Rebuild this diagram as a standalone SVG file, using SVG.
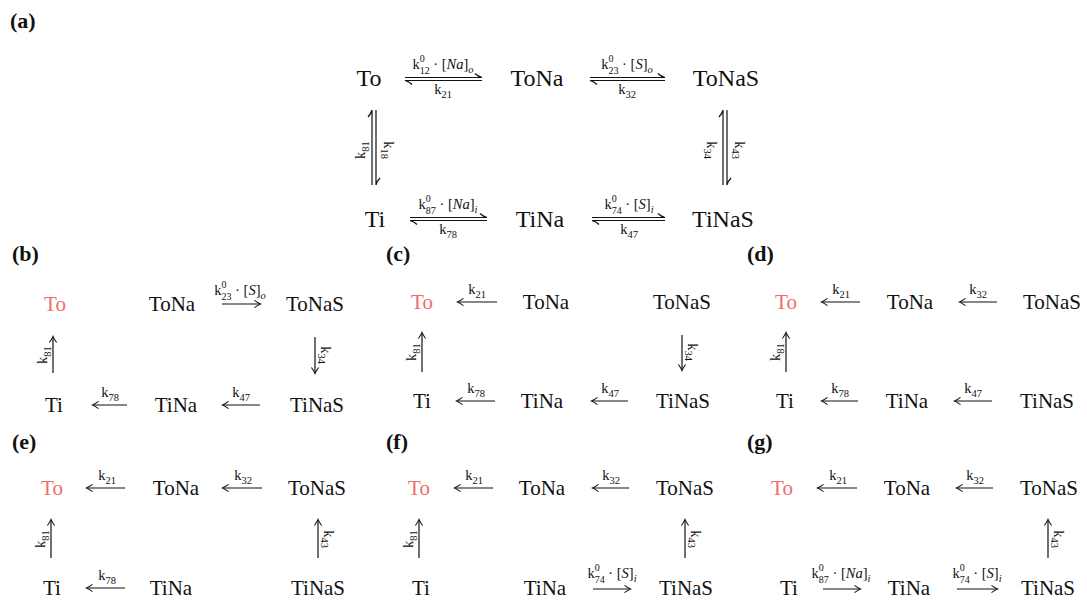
<svg xmlns="http://www.w3.org/2000/svg" width="1087" height="601" viewBox="0 0 1087 601">
<style>
.n{font-family:"Liberation Serif","Times New Roman",serif;font-size:21px;fill:#111;text-anchor:middle}
.na{font-size:24px}
.red{fill:#ee6b6e}
.l{font-family:"Liberation Serif","Times New Roman",serif;font-size:14.5px;fill:#111;text-anchor:middle}
.s{font-size:10.5px}
.t{font-size:10px}
.i{font-style:italic}
.p{font-family:"Liberation Serif","Times New Roman",serif;font-size:22px;font-weight:bold;fill:#111}
.c{stroke:#111;stroke-width:1.2;fill:none}
.a{stroke:#111;stroke-width:1.2;fill:none;marker-end:url(#ah)}
</style>
<defs>
<marker id="ah" viewBox="-7 -5 9 10" markerWidth="9" markerHeight="10" refX="0" refY="0" orient="auto" markerUnits="userSpaceOnUse">
<path d="M-5.5,-3.6 Q-1.8,-0.9 0.6,0 Q-1.8,0.9 -5.5,3.6" fill="none" stroke="#111" stroke-width="1.1"/>
</marker>
</defs>
<rect width="1087" height="601" fill="#fff"/>

<g id="panel-labels">
<text class="p" x="10" y="28">(a)</text>
<text class="p" x="12" y="261">(b)</text>
<text class="p" x="386" y="261">(c)</text>
<text class="p" x="747" y="261">(d)</text>
<text class="p" x="12" y="449">(e)</text>
<text class="p" x="386" y="449">(f)</text>
<text class="p" x="747" y="449">(g)</text>
</g>

<!-- ===== panel (a) nodes ===== -->
<g id="a-To"><text class="n na" x="369" y="86">To</text></g>
<g id="a-ToNa"><text class="n na" x="537" y="86">ToNa</text></g>
<g id="a-ToNaS"><text class="n na" x="726" y="86">ToNaS</text></g>
<g id="a-Ti"><text class="n na" x="375" y="227">Ti</text></g>
<g id="a-TiNa"><text class="n na" x="540" y="227">TiNa</text></g>
<g id="a-TiNaS"><text class="n na" x="723" y="227">TiNaS</text></g>

<!-- ===== panel (b) nodes ===== -->
<g id="b-To"><text class="n red" x="55" y="311">To</text></g>
<g id="b-ToNa"><text class="n" x="172" y="311">ToNa</text></g>
<g id="b-ToNaS"><text class="n" x="315" y="311">ToNaS</text></g>
<g id="b-Ti"><text class="n" x="54" y="412">Ti</text></g>
<g id="b-TiNa"><text class="n" x="176" y="412">TiNa</text></g>
<g id="b-TiNaS"><text class="n" x="317" y="412">TiNaS</text></g>

<!-- ===== panel (c) nodes ===== -->
<g id="c-To"><text class="n red" x="422" y="309">To</text></g>
<g id="c-ToNa"><text class="n" x="546" y="309">ToNa</text></g>
<g id="c-ToNaS"><text class="n" x="682" y="309">ToNaS</text></g>
<g id="c-Ti"><text class="n" x="422" y="408">Ti</text></g>
<g id="c-TiNa"><text class="n" x="542" y="408">TiNa</text></g>
<g id="c-TiNaS"><text class="n" x="683" y="408">TiNaS</text></g>

<!-- ===== panel (d) nodes ===== -->
<g id="d-To"><text class="n red" x="786" y="309">To</text></g>
<g id="d-ToNa"><text class="n" x="910" y="309">ToNa</text></g>
<g id="d-ToNaS"><text class="n" x="1052" y="309">ToNaS</text></g>
<g id="d-Ti"><text class="n" x="785" y="408">Ti</text></g>
<g id="d-TiNa"><text class="n" x="907" y="408">TiNa</text></g>
<g id="d-TiNaS"><text class="n" x="1047" y="408">TiNaS</text></g>

<!-- ===== panel (e) nodes ===== -->
<g id="e-To"><text class="n red" x="52" y="495">To</text></g>
<g id="e-ToNa"><text class="n" x="176" y="495">ToNa</text></g>
<g id="e-ToNaS"><text class="n" x="317" y="495">ToNaS</text></g>
<g id="e-Ti"><text class="n" x="52" y="595">Ti</text></g>
<g id="e-TiNa"><text class="n" x="171" y="595">TiNa</text></g>
<g id="e-TiNaS"><text class="n" x="318" y="595">TiNaS</text></g>

<!-- ===== panel (f) nodes ===== -->
<g id="f-To"><text class="n red" x="419" y="495">To</text></g>
<g id="f-ToNa"><text class="n" x="542" y="495">ToNa</text></g>
<g id="f-ToNaS"><text class="n" x="685" y="495">ToNaS</text></g>
<g id="f-Ti"><text class="n" x="421" y="595">Ti</text></g>
<g id="f-TiNa"><text class="n" x="545" y="595">TiNa</text></g>
<g id="f-TiNaS"><text class="n" x="686" y="595">TiNaS</text></g>

<!-- ===== panel (g) nodes ===== -->
<g id="g-To"><text class="n red" x="782" y="495">To</text></g>
<g id="g-ToNa"><text class="n" x="907" y="495">ToNa</text></g>
<g id="g-ToNaS"><text class="n" x="1049" y="495">ToNaS</text></g>
<g id="g-Ti"><text class="n" x="789" y="595">Ti</text></g>
<g id="g-TiNa"><text class="n" x="909" y="595">TiNa</text></g>
<g id="g-TiNaS"><text class="n" x="1048" y="595">TiNaS</text></g>

<!-- ===== connectors ===== -->
<g id="connectors">
<path class="c" d="M405,77.5 H482 M482,77.5 Q478,76.5 475,73.5 M482,80.5 H405 M405,80.5 Q409,81.5 412,84.5"/>
<path class="c" d="M590,77.5 H665 M665,77.5 Q661,76.5 658,73.5 M665,80.5 H590 M590,80.5 Q594,81.5 597,84.5"/>
<path class="c" d="M410,217.5 H487 M487,217.5 Q483,216.5 480,213.5 M487,220.5 H410 M410,220.5 Q414,221.5 417,224.5"/>
<path class="c" d="M592,217.5 H665 M665,217.5 Q661,216.5 658,213.5 M665,220.5 H592 M592,220.5 Q596,221.5 599,224.5"/>
<path class="c" d="M372,185 V110 M372,110 Q371,114 368,117 M376,110 V185 M376,185 Q377,181 380,178"/>
<path class="c" d="M723,185 V110 M723,110 Q722,114 719,117 M727,110 V185 M727,185 Q728,181 731,178"/>

<line class="a" x1="222" y1="304" x2="260" y2="304"/>
<line class="a" x1="53" y1="373" x2="53" y2="337"/>
<line class="a" x1="315" y1="337" x2="315" y2="373"/>
<line class="a" x1="127" y1="405" x2="93" y2="405"/>
<line class="a" x1="260" y1="405" x2="223" y2="405"/>

<line class="a" x1="497" y1="302" x2="458" y2="302"/>
<line class="a" x1="422" y1="372" x2="422" y2="333"/>
<line class="a" x1="682" y1="335" x2="682" y2="370"/>
<line class="a" x1="495" y1="401" x2="457" y2="401"/>
<line class="a" x1="628" y1="401" x2="592" y2="401"/>

<line class="a" x1="860" y1="302" x2="822" y2="302"/>
<line class="a" x1="997" y1="302" x2="960" y2="302"/>
<line class="a" x1="786" y1="372" x2="786" y2="333"/>
<line class="a" x1="858" y1="401" x2="822" y2="401"/>
<line class="a" x1="992" y1="401" x2="955" y2="401"/>

<line class="a" x1="125" y1="488" x2="87" y2="488"/>
<line class="a" x1="262" y1="488" x2="223" y2="488"/>
<line class="a" x1="51" y1="558" x2="51" y2="520"/>
<line class="a" x1="318" y1="558" x2="318" y2="520"/>
<line class="a" x1="125" y1="588" x2="87" y2="588"/>

<line class="a" x1="493" y1="488" x2="455" y2="488"/>
<line class="a" x1="629" y1="488" x2="593" y2="488"/>
<line class="a" x1="419" y1="558" x2="419" y2="520"/>
<line class="a" x1="685" y1="558" x2="685" y2="520"/>
<line class="a" x1="593" y1="589" x2="630" y2="589"/>

<line class="a" x1="857" y1="488" x2="818" y2="488"/>
<line class="a" x1="993" y1="488" x2="957" y2="488"/>
<line class="a" x1="1048" y1="558" x2="1048" y2="520"/>
<line class="a" x1="823" y1="589" x2="860" y2="589"/>
<line class="a" x1="957" y1="589" x2="997" y2="589"/>
</g>

<g id="connector-labels">
<text class="l" x="443" y="69">k<tspan class="t" dy="-6.6">0</tspan><tspan class="t" dx="-5" dy="11.3">12</tspan><tspan dy="-4.7"> · [</tspan><tspan class="i">Na</tspan>]<tspan class="s i" dy="3.5">o</tspan></text>
<text class="l" x="443" y="94">k<tspan class="s" dy="3.5">21</tspan></text>
<text class="l" x="627" y="69">k<tspan class="t" dy="-6.6">0</tspan><tspan class="t" dx="-5" dy="11.3">23</tspan><tspan dy="-4.7"> · [</tspan><tspan class="i">S</tspan>]<tspan class="s i" dy="3.5">o</tspan></text>
<text class="l" x="627" y="94">k<tspan class="s" dy="3.5">32</tspan></text>
<text class="l" x="448" y="209">k<tspan class="t" dy="-6.6">0</tspan><tspan class="t" dx="-5" dy="11.3">87</tspan><tspan dy="-4.7"> · [</tspan><tspan class="i">Na</tspan>]<tspan class="s i" dy="3.5">i</tspan></text>
<text class="l" x="448" y="234">k<tspan class="s" dy="3.5">78</tspan></text>
<text class="l" x="629" y="209">k<tspan class="t" dy="-6.6">0</tspan><tspan class="t" dx="-5" dy="11.3">74</tspan><tspan dy="-4.7"> · [</tspan><tspan class="i">S</tspan>]<tspan class="s i" dy="3.5">i</tspan></text>
<text class="l" x="629" y="234">k<tspan class="s" dy="3.5">47</tspan></text>
<text class="l" transform="translate(365,150) rotate(-90)">k<tspan class="s" dy="3.5">81</tspan></text>
<text class="l" transform="translate(384,150) rotate(90)">k<tspan class="s" dy="3.5">18</tspan></text>
<text class="l" transform="translate(707,150) rotate(90)">k<tspan class="s" dy="3.5">34</tspan></text>
<text class="l" transform="translate(735,150) rotate(90)">k<tspan class="s" dy="3.5">43</tspan></text>

<text class="l" x="240" y="295">k<tspan class="t" dy="-6.6">0</tspan><tspan class="t" dx="-5" dy="11.3">23</tspan><tspan dy="-4.7"> · [</tspan><tspan class="i">S</tspan>]<tspan class="s i" dy="3.5">o</tspan></text>
<text class="l" transform="translate(47,355) rotate(-90)">k<tspan class="s" dy="3.5">81</tspan></text>
<text class="l" transform="translate(321,355) rotate(90)">k<tspan class="s" dy="3.5">34</tspan></text>
<text class="l" x="110" y="397">k<tspan class="s" dy="3.5">78</tspan></text>
<text class="l" x="241" y="397">k<tspan class="s" dy="3.5">47</tspan></text>

<text class="l" x="477" y="294">k<tspan class="s" dy="3.5">21</tspan></text>
<text class="l" transform="translate(416,352) rotate(-90)">k<tspan class="s" dy="3.5">81</tspan></text>
<text class="l" transform="translate(688,352) rotate(90)">k<tspan class="s" dy="3.5">34</tspan></text>
<text class="l" x="476" y="393">k<tspan class="s" dy="3.5">78</tspan></text>
<text class="l" x="610" y="393">k<tspan class="s" dy="3.5">47</tspan></text>

<text class="l" x="841" y="294">k<tspan class="s" dy="3.5">21</tspan></text>
<text class="l" x="978" y="294">k<tspan class="s" dy="3.5">32</tspan></text>
<text class="l" transform="translate(780,352) rotate(-90)">k<tspan class="s" dy="3.5">81</tspan></text>
<text class="l" x="840" y="393">k<tspan class="s" dy="3.5">78</tspan></text>
<text class="l" x="973" y="393">k<tspan class="s" dy="3.5">47</tspan></text>

<text class="l" x="107" y="480">k<tspan class="s" dy="3.5">21</tspan></text>
<text class="l" x="243" y="480">k<tspan class="s" dy="3.5">32</tspan></text>
<text class="l" transform="translate(45,539) rotate(-90)">k<tspan class="s" dy="3.5">81</tspan></text>
<text class="l" transform="translate(324,539) rotate(90)">k<tspan class="s" dy="3.5">43</tspan></text>
<text class="l" x="107" y="580">k<tspan class="s" dy="3.5">78</tspan></text>

<text class="l" x="474" y="480">k<tspan class="s" dy="3.5">21</tspan></text>
<text class="l" x="611" y="480">k<tspan class="s" dy="3.5">32</tspan></text>
<text class="l" transform="translate(413,539) rotate(-90)">k<tspan class="s" dy="3.5">81</tspan></text>
<text class="l" transform="translate(691,539) rotate(90)">k<tspan class="s" dy="3.5">43</tspan></text>
<text class="l" x="612" y="578">k<tspan class="t" dy="-6.6">0</tspan><tspan class="t" dx="-5" dy="11.3">74</tspan><tspan dy="-4.7"> · [</tspan><tspan class="i">S</tspan>]<tspan class="s i" dy="3.5">i</tspan></text>

<text class="l" x="838" y="480">k<tspan class="s" dy="3.5">21</tspan></text>
<text class="l" x="975" y="480">k<tspan class="s" dy="3.5">32</tspan></text>
<text class="l" transform="translate(1054,539) rotate(90)">k<tspan class="s" dy="3.5">43</tspan></text>
<text class="l" x="841" y="578">k<tspan class="t" dy="-6.6">0</tspan><tspan class="t" dx="-5" dy="11.3">87</tspan><tspan dy="-4.7"> · [</tspan><tspan class="i">Na</tspan>]<tspan class="s i" dy="3.5">i</tspan></text>
<text class="l" x="977" y="578">k<tspan class="t" dy="-6.6">0</tspan><tspan class="t" dx="-5" dy="11.3">74</tspan><tspan dy="-4.7"> · [</tspan><tspan class="i">S</tspan>]<tspan class="s i" dy="3.5">i</tspan></text>
</g>
</svg>
